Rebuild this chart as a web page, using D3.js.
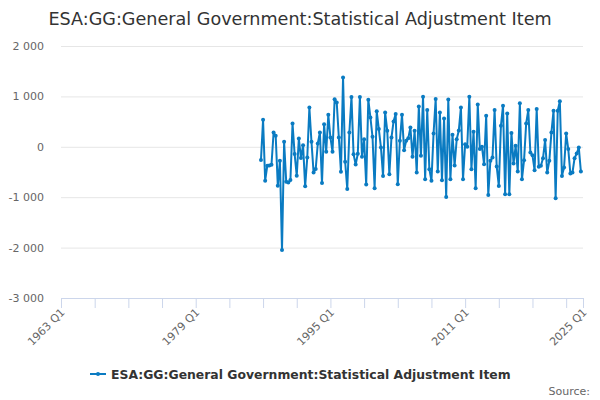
<!DOCTYPE html>
<html>
<head>
<meta charset="utf-8">
<script src="https://cdn.jsdelivr.net/npm/d3@7/dist/d3.min.js"></script>
<style>
  body { margin: 0; background: #fff; }
  svg { font-family: "DejaVu Sans", sans-serif; }
</style>
</head>
<body>
<div id="wrapper"></div>
<script>
const chartTitle = "ESA:GG:General Government:Statistical Adjustment Item"
const seriesName = "ESA:GG:General Government:Statistical Adjustment Item"
const sourceText = "Source:"

// quarterly categories on the axis
const firstYear = 1963
const lastYear = 2025
const dataStart = "1986 Q4"

// values from 1986 Q4 to 2024 Q4
const values = [
  -264, 535, -673, -376, -370, -356, 284, 218, -772, -277,
  -2046, 99, -693, -706, -660, 462, -145, -574, 165, -224,
  33, -785, -211, 779, 100, -508, -442, 66, 284, -719,
  449, -99, 634, 185, -99, 944, 878, 185, -495, 1373,
  -297, -838, 284, 990, -150, -350, -140, 990, -199, 152,
  -750, 935, 583, 199, -822, 703, 351, -13, -577, 683,
  318, -544, 184, 504, 650, -743, 119, 636, -66, 119,
  172, 384, -199, 318, -510, 800, -179, 995, -643, 729,
  -444, -676, 265, 948, -491, 683, -663, 560, -995, 940,
  -643, 240, -370, 150, 325, 782, -643, 50, 0, 995,
  -444, 300, -822, 840, -46, 0, -345, 617, -955, -278,
  -212, 729, -390, -776, 418, 815, -941, 663, -941, 275,
  -332, 20, -491, 862, -643, -265, 464, 729, -113, -170,
  -464, 749, -398, -378, -225, 133, -510, -278, 285, 716,
  -1021, 716, 902, -577, -411, 265, -46, -530, -510, -225,
  -133, -13, -491
]

const yTicks = [2000, 1000, 0, -1000, -2000, -3000]
const xLabels = ["1963 Q1", "1979 Q1", "1995 Q1", "2011 Q1", "2025 Q1"]
const tickEvery = 16

const categories = []
for (let y = firstYear; y <= lastYear; y++) {
  for (let q = 1; q <= 4; q++) {
    if (y === lastYear && q > 1) break
    categories.push(y + " Q" + q)
  }
}

const startIndex = categories.indexOf(dataStart)
const dataset = values.map((v, i) => ({ period: categories[startIndex + i], value: v }))

const xAccessor = d => d.period
const yAccessor = d => d.value

const dms = {
  width: 600,
  height: 400,
  margin: { top: 46, right: 17, bottom: 102, left: 61 },
}
dms.boundedWidth = dms.width - dms.margin.left - dms.margin.right
dms.boundedHeight = dms.height - dms.margin.top - dms.margin.bottom

const wrapper = d3.select("#wrapper")
  .append("svg")
  .attr("width", dms.width)
  .attr("height", dms.height)

wrapper.append("text")
  .attr("x", dms.width / 2)
  .attr("y", 25)
  .attr("text-anchor", "middle")
  .attr("fill", "#333333")
  .style("font-size", "17.6px")
  .text(chartTitle)

const bounds = wrapper.append("g")
  .attr("transform", `translate(${dms.margin.left},${dms.margin.top})`)

const xScale = d3.scalePoint()
  .domain(categories)
  .range([0, dms.boundedWidth])

const yScale = d3.scaleLinear()
  .domain([-3000, 2000])
  .range([dms.boundedHeight, 0])

const fmt = v => d3.format(",")(v).replace(/,/g, " ").replace("−", "-")

// grid + y labels
const yAxisGenerator = d3.axisLeft(yScale)
  .tickValues(yTicks)
  .tickSize(-dms.boundedWidth)
  .tickPadding(17)
  .tickFormat(fmt)

const yAxis = bounds.append("g").call(yAxisGenerator)
yAxis.select(".domain").remove()
yAxis.selectAll(".tick line").attr("stroke", "#e6e6e6")
yAxis.selectAll(".tick text")
  .attr("fill", "#666666")
  .style("font-size", "11px")
  .style("font-family", "DejaVu Sans, sans-serif")

// x axis
const tickCats = categories.filter((c, i) => i % tickEvery === 0 || i === categories.length - 1)
const xAxisGenerator = d3.axisBottom(xScale)
  .tickValues(tickCats)
  .tickSize(10)
  .tickSizeOuter(0)
  .tickFormat(c => xLabels.includes(c) ? c : "")

const xAxis = bounds.append("g")
  .attr("transform", `translate(0,${dms.boundedHeight})`)
  .call(xAxisGenerator)
xAxis.select(".domain").attr("stroke", "#ccd6eb")
xAxis.selectAll(".tick line").attr("stroke", "#ccd6eb")
xAxis.selectAll(".tick text")
  .attr("fill", "#666666")
  .style("font-size", "11px")
  .style("font-family", "DejaVu Sans, sans-serif")
  .attr("text-anchor", "end")
  .attr("dy", null)
  .attr("y", 0)
  .attr("transform", "translate(4,15) rotate(-45)")

// line + markers
const lineColor = "#0a7bc2"
const lineGenerator = d3.line()
  .x(d => xScale(xAccessor(d)))
  .y(d => yScale(yAccessor(d)))

bounds.append("path")
  .datum(dataset)
  .attr("fill", "none")
  .attr("stroke", lineColor)
  .attr("stroke-width", 2)
  .attr("stroke-linejoin", "round")
  .attr("d", lineGenerator)

bounds.selectAll("circle")
  .data(dataset)
  .join("circle")
  .attr("cx", d => xScale(xAccessor(d)))
  .attr("cy", d => yScale(yAccessor(d)))
  .attr("r", 2)
  .attr("fill", lineColor)

// legend
const legend = wrapper.append("g")
  .attr("transform", "translate(90,374)")
legend.append("line")
  .attr("x1", 0).attr("x2", 16)
  .attr("stroke", lineColor)
  .attr("stroke-width", 2)
legend.append("circle")
  .attr("cx", 8).attr("r", 2)
  .attr("fill", lineColor)
legend.append("text")
  .attr("x", 21)
  .attr("y", 4.5)
  .attr("fill", "#333333")
  .style("font-size", "12.4px")
  .style("font-weight", "bold")
  .text(seriesName)

wrapper.append("text")
  .attr("x", 590)
  .attr("y", 395)
  .attr("text-anchor", "end")
  .attr("fill", "#666666")
  .style("font-size", "11px")
  .text(sourceText)
</script>
</body>
</html>
